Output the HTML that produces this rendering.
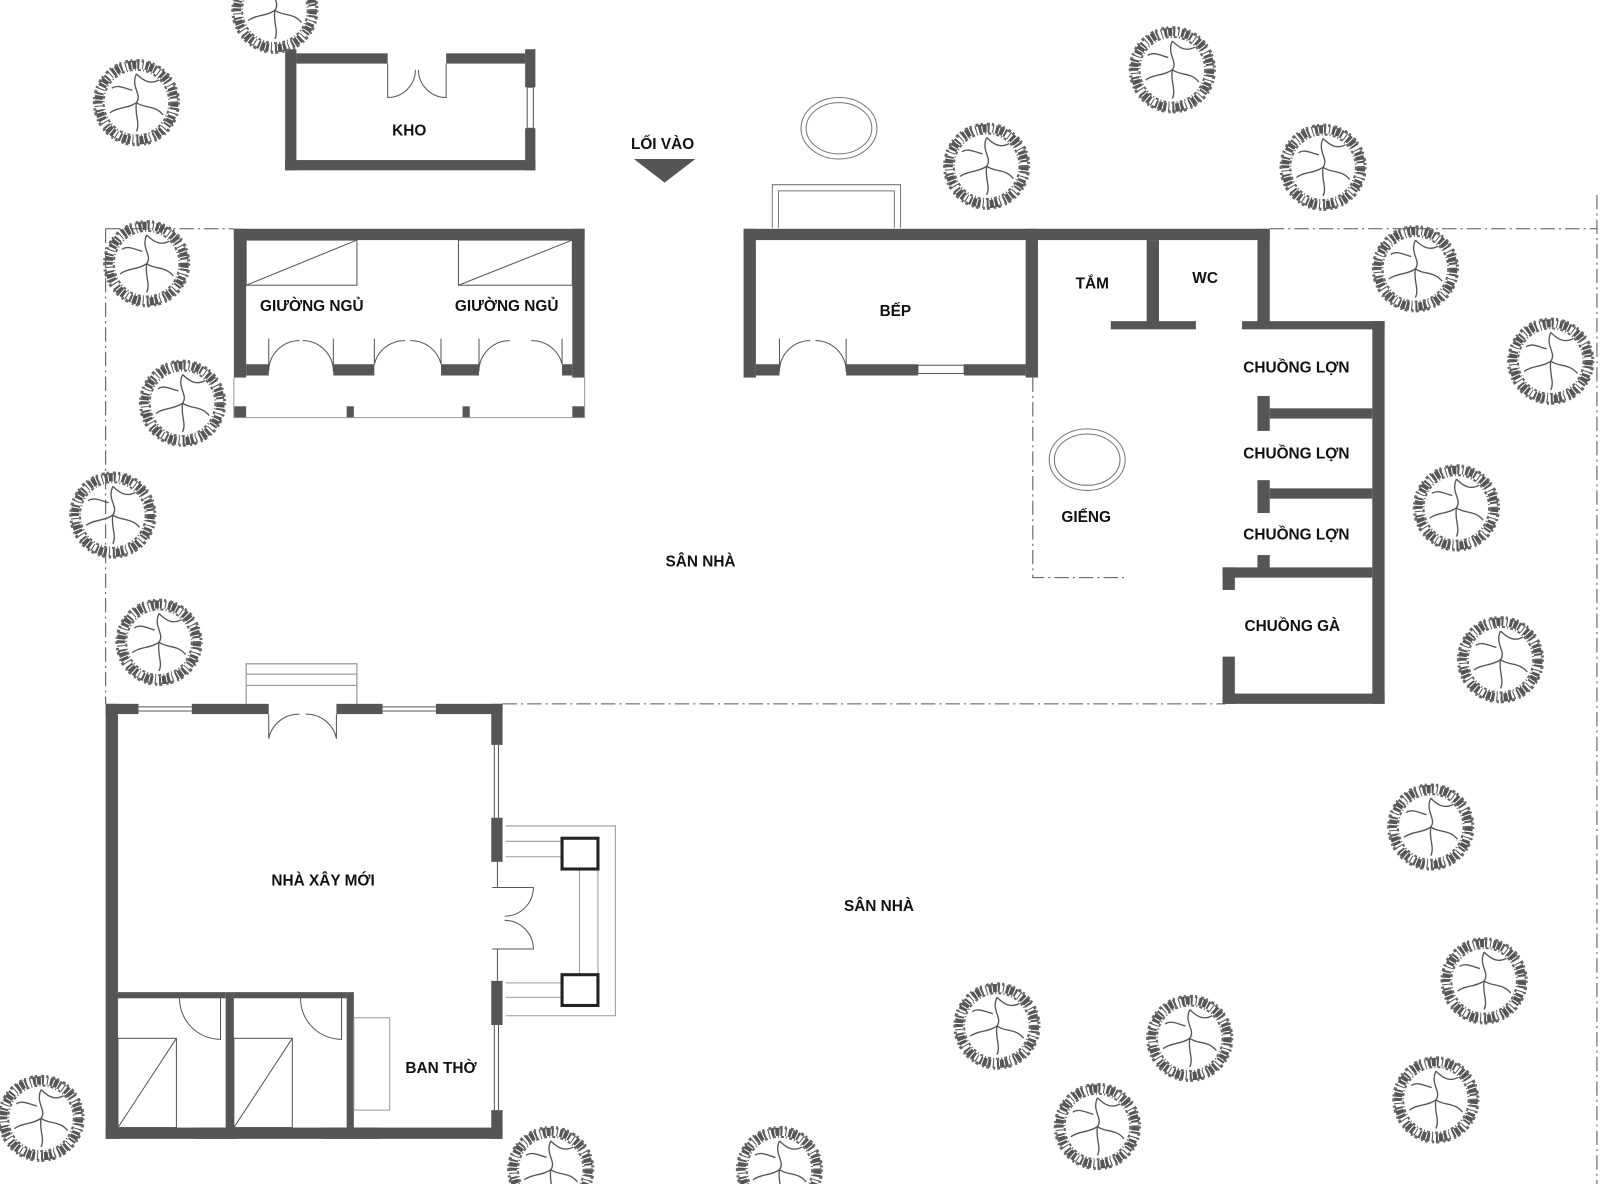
<!DOCTYPE html>
<html><head><meta charset="utf-8"><style>
html,body{margin:0;padding:0;background:#fff;width:1600px;height:1184px;overflow:hidden}
svg{display:block}
text{font-family:"Liberation Sans","DejaVu Sans",sans-serif;font-weight:bold;font-size:15px;fill:#111;text-anchor:middle}
</style></head><body>
<svg width="1600" height="1184" viewBox="0 0 1560 1154" preserveAspectRatio="none" xmlns="http://www.w3.org/2000/svg">
<defs>
<g id="tree">
<circle r="37" fill="none" stroke="#555" stroke-width="8" stroke-dasharray="4 1 2 3 1 2 3 1"/>
<circle r="41" fill="none" stroke="#666" stroke-width="3" stroke-dasharray="2 4 3 2"/>
<circle r="32" fill="none" stroke="#666" stroke-width="2" stroke-dasharray="3 2 1 2"/>
<path d="M0,-28 C-6,-15 6,-8 0,0 C-8,6 -18,4 -26,10 M0,0 C8,6 18,2 26,12 M0,0 C-2,12 4,20 0,28 M0,-28 C8,-20 14,-18 22,-22 M-4,-12 C-12,-14 -18,-18 -24,-14" fill="none" stroke="#555" stroke-width="1.3"/>
</g>
</defs>
<g fill="none" stroke="#555" stroke-width="1" stroke-dasharray="14 4 2 4">
<path d="M103,223 H228 M1238,223 H1557 M103,223 V686 M490,686 H1195 M1557,190 V1160 M1007,368 V563 H1100"/>
</g>
<g fill="#555">
<rect x="278" y="48" width="11" height="118"/>
<rect x="289" y="52" width="89" height="10"/>
<rect x="435" y="52" width="77" height="10"/>
<rect x="512" y="48" width="10" height="37"/>
<rect x="512" y="125" width="10" height="41"/>
<rect x="278" y="156" width="244" height="10"/>
<polygon points="618,155 678,155 648,178"/>
<rect x="228" y="223" width="342" height="11"/>
<rect x="228" y="223" width="12" height="145"/>
<rect x="558" y="223" width="12" height="145"/>
<rect x="240" y="355" width="22" height="11"/>
<rect x="325" y="355" width="40" height="11"/>
<rect x="430" y="355" width="37" height="11"/>
<rect x="548" y="355" width="10" height="11"/>
<rect x="228" y="396" width="12" height="11"/>
<rect x="338" y="396" width="7" height="11"/>
<rect x="451" y="396" width="7" height="11"/>
<rect x="558" y="396" width="12" height="11"/>
<rect x="725" y="223" width="513" height="11"/>
<rect x="725" y="223" width="12" height="145"/>
<rect x="1000" y="223" width="12" height="145"/>
<rect x="737" y="355" width="23" height="11"/>
<rect x="825" y="355" width="70" height="11"/>
<rect x="940" y="355" width="60" height="11"/>
<rect x="1118" y="234" width="12" height="86"/>
<rect x="1083" y="313" width="83" height="8"/>
<rect x="1226" y="223" width="12" height="97"/>
<rect x="1211" y="313" width="139" height="8"/>
<rect x="1338" y="313" width="12" height="373"/>
<rect x="1226" y="386" width="12" height="34"/>
<rect x="1238" y="398" width="100" height="10"/>
<rect x="1226" y="468" width="12" height="32"/>
<rect x="1238" y="476" width="100" height="10"/>
<rect x="1226" y="541" width="12" height="14"/>
<rect x="1192" y="553" width="146" height="10"/>
<rect x="1192" y="553" width="12" height="22"/>
<rect x="1192" y="640" width="12" height="46"/>
<rect x="1192" y="676" width="158" height="10"/>
<rect x="103" y="686" width="12" height="424"/>
<rect x="103" y="1099" width="387" height="11"/>
<rect x="103" y="686" width="32" height="10"/>
<rect x="187" y="686" width="75" height="10"/>
<rect x="328" y="686" width="45" height="10"/>
<rect x="425" y="686" width="65" height="10"/>
<rect x="479" y="686" width="11" height="40"/>
<rect x="479" y="797" width="11" height="43"/>
<rect x="479" y="956" width="11" height="43"/>
<rect x="479" y="1082" width="11" height="28"/>
<rect x="115" y="967" width="105" height="6"/>
<rect x="228" y="967" width="110" height="6"/>
<rect x="220" y="967" width="8" height="133"/>
<rect x="338" y="967" width="7" height="133"/>
<rect x="190" y="1099" width="40" height="11"/>
<rect x="315" y="1099" width="55" height="11"/>
</g>
<g fill="none" stroke="#555" stroke-width="1">
<path d="M378,62 V95 A27,27 0 0 0 405,68 M435,62 V95 A27,27 0 0 1 408,68"/>
<rect x="514" y="85" width="6" height="40"/>
<path d="M262,330 V362 A30,30 0 0 1 292,332 M325,330 V362 A30,30 0 0 0 295,332"/>
<path d="M365,330 V355 A30,30 0 0 1 395,332 M430,330 V355 A30,30 0 0 0 400,332"/>
<path d="M467,330 V362 A30,30 0 0 1 497,332 M548,330 V355 A30,30 0 0 0 518,332"/>
<rect x="240" y="234" width="108" height="44"/><path d="M240,278 L348,234"/>
<rect x="447" y="234" width="111" height="44"/><path d="M447,278 L558,234"/>
<path d="M228,368 V407 H570 V368" stroke="#999"/>
<path d="M760,330 V362 A30,30 0 0 1 790,332 M825,330 V362 A30,30 0 0 0 795,332"/>
<rect x="895" y="356" width="45" height="8"/>
<ellipse cx="818" cy="125" rx="37" ry="30" stroke="#777"/>
<ellipse cx="818" cy="125" rx="32" ry="25" stroke="#777"/>
<path d="M753,222 V180 H878 V222 M759,222 V186 H872 V222" stroke="#777"/>
<ellipse cx="1060" cy="448" rx="37" ry="30" stroke="#777"/>
<ellipse cx="1060" cy="448" rx="32" ry="25" stroke="#777"/>
<path d="M240,686 V647 H348 V686 M240,657 H348 M240,668 H348" stroke="#888"/>
<path d="M262,696 V720 A30,30 0 0 1 292,696 M328,696 V720 A30,30 0 0 0 298,696"/>
<path d="M135,689 H187 M135,693 H187 M373,689 H425 M373,693 H425 M482,726 V797 M486,726 V797 M482,999 V1082 M486,999 V1082 M135,1103 H190 M135,1107 H190 M230,1103 H315 M230,1107 H315 M370,1103 H479 M370,1107 H479"/>
<path d="M485,840 V865 M485,925 V956 M480,865 H520 A28,28 0 0 1 492,893 M480,925 H520 A28,28 0 0 0 492,897"/>
<path d="M493,805 H600 V990 H493 M493,820 H548 M493,835 H548 M493,958 H548 M493,972 H548 M565,847 V950 M583,847 V950" stroke="#999"/>
<rect x="548" y="817" width="35" height="30" stroke="#222" stroke-width="3"/>
<rect x="548" y="950" width="35" height="30" stroke="#222" stroke-width="3"/>
<path d="M175,973 A40,40 0 0 0 215,1013 V973 M293,973 A40,40 0 0 0 333,1013 V973"/>
<rect x="115" y="1012" width="57" height="87"/><path d="M115,1099 L172,1012"/>
<rect x="228" y="1012" width="57" height="87"/><path d="M228,1099 L285,1012"/>
<rect x="345" y="992" width="35" height="90" stroke="#999"/>
</g>
<g>
<use href="#tree" x="268" y="10"/>
<use href="#tree" x="133" y="100"/>
<use href="#tree" x="1143" y="68"/>
<use href="#tree" x="962" y="162"/>
<use href="#tree" x="1290" y="163"/>
<use href="#tree" x="143" y="257"/>
<use href="#tree" x="1380" y="262"/>
<use href="#tree" x="1512" y="352"/>
<use href="#tree" x="178" y="393"/>
<use href="#tree" x="110" y="502"/>
<use href="#tree" x="1420" y="495"/>
<use href="#tree" x="155" y="626"/>
<use href="#tree" x="1463" y="643"/>
<use href="#tree" x="1395" y="806"/>
<use href="#tree" x="1447" y="956"/>
<use href="#tree" x="972" y="1000"/>
<use href="#tree" x="1160" y="1012"/>
<use href="#tree" x="1400" y="1072"/>
<use href="#tree" x="1070" y="1098"/>
<use href="#tree" x="40" y="1090"/>
<use href="#tree" x="537" y="1140"/>
<use href="#tree" x="760" y="1140"/>
</g>
<g>
<text x="399" y="132">KHO</text>
<text x="646" y="145">LỐI VÀO</text>
<text x="304" y="303">GIƯỜNG NGỦ</text>
<text x="494" y="303">GIƯỜNG NGỦ</text>
<text x="873" y="308">BẾP</text>
<text x="1065" y="281">TẮM</text>
<text x="1175" y="276">WC</text>
<text x="1264" y="363">CHUỒNG LỢN</text>
<text x="1264" y="447">CHUỒNG LỢN</text>
<text x="1264" y="526">CHUỒNG LỢN</text>
<text x="1260" y="615">CHUỒNG GÀ</text>
<text x="1059" y="509">GIẾNG</text>
<text x="683" y="552">SÂN NHÀ</text>
<text x="857" y="888">SÂN NHÀ</text>
<text x="315" y="863">NHÀ XÂY MỚI</text>
<text x="430" y="1046">BAN THỜ</text>
</g>
</svg>
</body></html>
